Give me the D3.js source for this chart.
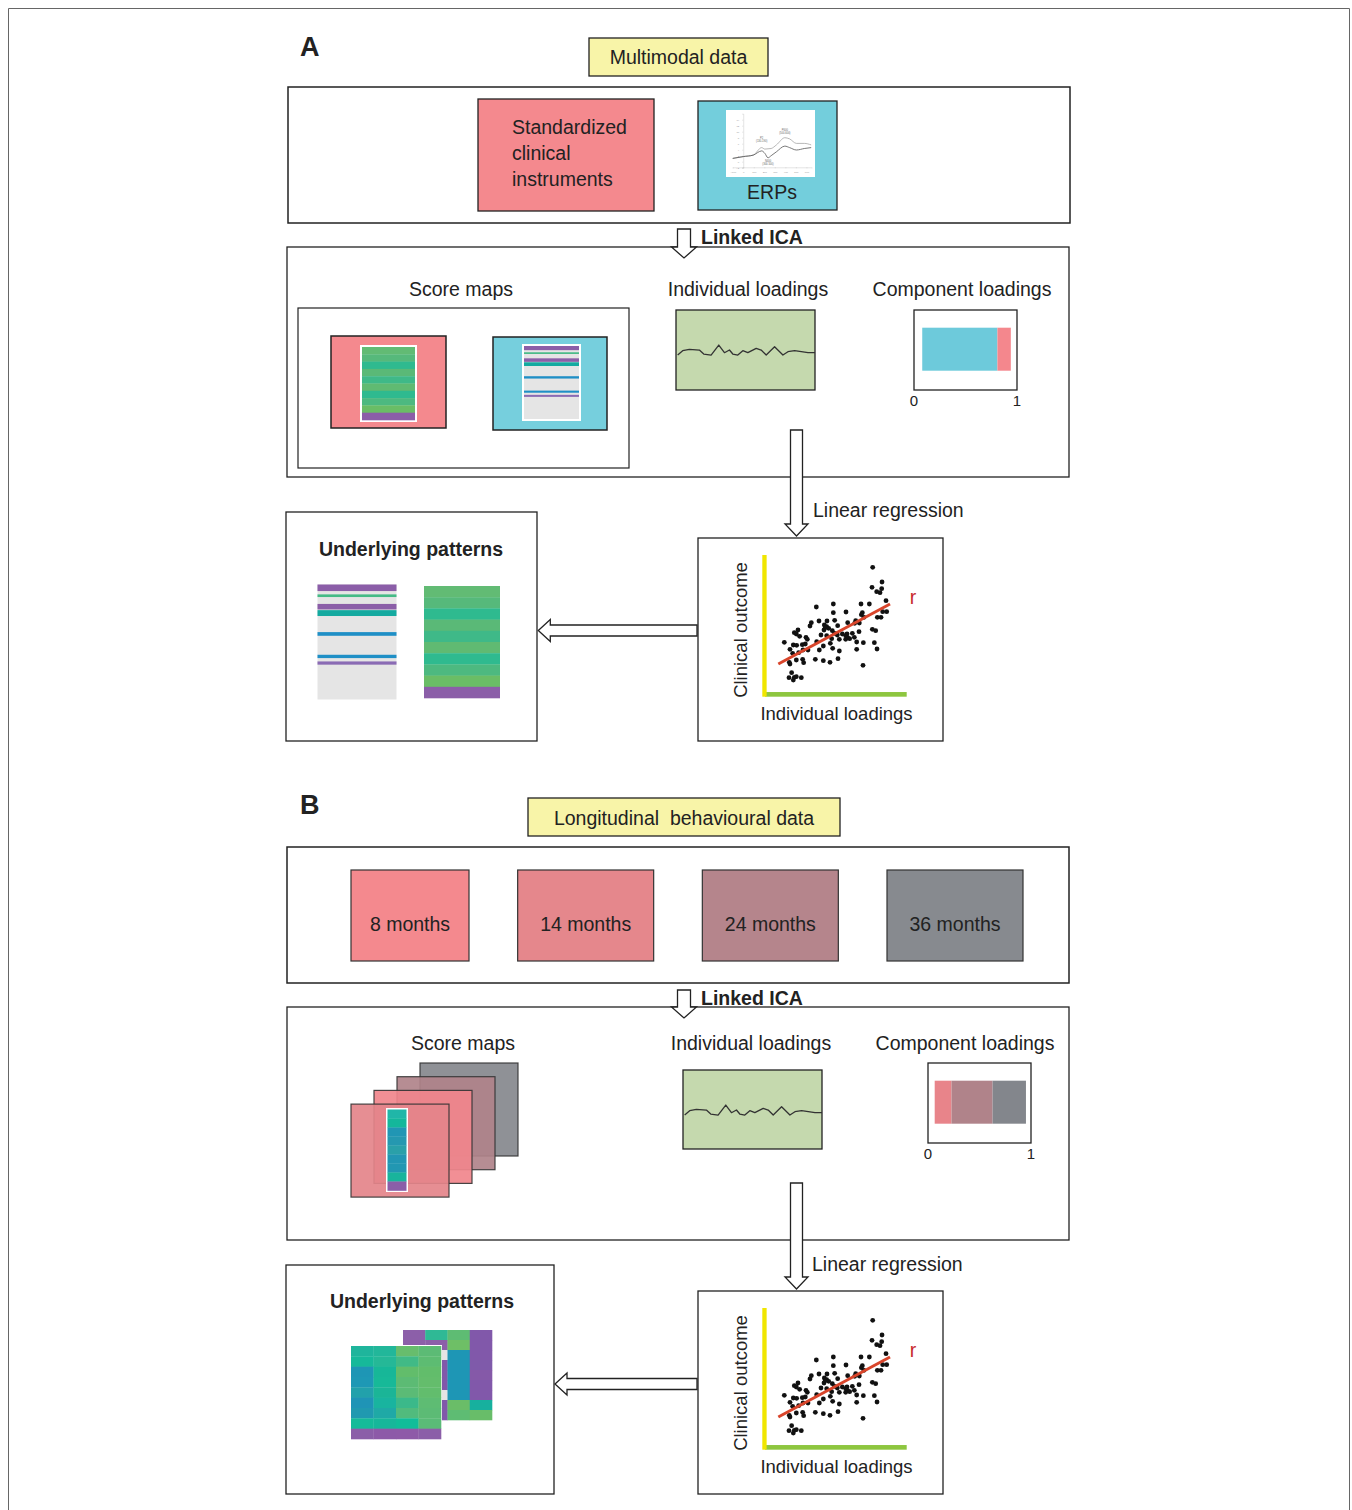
<!DOCTYPE html>
<html>
<head>
<meta charset="utf-8">
<script src="https://cdnjs.cloudflare.com/ajax/libs/d3/7.8.5/d3.min.js"></script>
<style>
body{margin:0;background:#fff;}
text{font-family:"Liberation Sans",Arial,sans-serif;fill:#222;font-size:19.5px;}
</style>
</head>
<body>
<script>
// ---------- data ----------
var clinicalLines = ["Standardized","clinical","instruments"];

// ERP thumbnail (time in ms, amplitude in uV)
var erpTime  = [-100,0,95,175,205,235,265,315,395,440,505,580,645];
var erpLower = [1.1,1.7,2.2,3.6,2.8,1.3,2.0,3.3,5.2,4.7,3.9,4.4,4.7];
var erpUpper = [1.1,1.7,2.2,4.7,4.2,4.3,4.4,5.6,8.0,7.6,6.1,6.1,5.6];
var erpPeakLabels = ["P2","(130-190)","P600","(500-600)","N400","(300-500)"];

// score-map rows (dense map) and sparse map stripes [start, end, colour] as fraction of height
var denseRows = ["#62bb74","#56b97b","#2fba8f","#5ab977","#3fb988","#60ba72","#2fba8f","#4db980","#6abd66","#8b5ea8"];
var sparseStripes = [[0,0.057,"#8b5ea8"],[0.086,0.109,"#45bb86"],[0.169,0.217,"#8b5ea8"],[0.223,0.274,"#14aaa0"],
                     [0.414,0.446,"#1f8fc6"],[0.611,0.640,"#1f8fc6"],[0.669,0.697,"#8a6bb4"]];

// individual loadings trace
var loadingT = [25,40,60,90,103,125,148,165,180,190,205,220,235,260,275,290,315,340,355,375,395,415,436];
var loadingV = [-7,6,10,8,-4,-7,23,0,8,-4,-7,6,0,13,8,-7,18,-7,3,6,3,0,0];

// component loadings (stacked shares)
var compStartA = 0.08;
var compValuesA = [0.73,0.13];
var compColorsA = ["#6dcadb","#f4878d"];
var compStartB = 0.065;
var compValuesB = [0.163,0.399,0.324];
var compColorsB = ["#e8848a","#b0838a","#83868c"];

// longitudinal time points
var months = ["8 months","14 months","24 months","36 months"];
var monthColors = ["#f4898e","#e5878c","#b5858c","#878a8f"];
var cardColors = ["#85888d","#b0838a","#f1868c","#e4848a"]; // back to front

// scatter: individual loadings vs clinical outcome (arbitrary units)
var scatterX = [331,329,359,358,343,353,371,213,162,296,321,213,251,300,297,361,373,345,356,170,194,217,280,143,147,
                186,193,226,256,277,291,305,199,185,189,210,290,330,340,107,96,102,112,131,135,176,193,208,217,225,240,
                254,270,256,276,262,250,66,93,103,120,129,122,163,183,204,231,250,283,303,336,83,91,109,137,171,211,231,
                283,344,81,83,102,121,124,159,183,203,227,302,88,80,96,93,117,102];
var scatterY = [388,328,344,324,315,312,288,278,269,278,278,252,254,252,246,255,255,238,238,227,227,229,228,212,222,
                215,210,213,222,220,221,238,205,200,207,198,195,202,198,200,192,188,181,178,172,185,183,174,190,185,188,
                188,190,177,178,174,183,163,155,154,156,158,140,165,152,160,172,172,164,162,162,142,130,132,140,140,145,137,
                142,143,103,98,110,112,102,112,108,103,114,94,72,57,58,50,57,60];
var fitX = [48,383];
var fitY = [98,278];

// underlying patterns B: 9 rows x 4 columns
var frontGrid = [
  ["#1fb59c","#22b79a","#67bd6d","#5cbb75"],
  ["#16b99a","#25b897","#41ba86","#5dbc72"],
  ["#1e96b5","#17b798","#62bd6b","#62bd6b"],
  ["#1e98b5","#17b998","#5cbb74","#64bd6c"],
  ["#22a1ab","#1bb597","#5bbb76","#62bd6d"],
  ["#1f94b6","#19b49f","#3bb98a","#5ebc73"],
  ["#2099b0","#1fa9a6","#51bb7d","#5cbb75"],
  ["#15bb99","#17b79a","#11bd99","#5abb77"],
  ["#8b5ea8","#8d5aa8","#8e5aa8","#8b5ea8"]];
var backGrid = [
  ["#8c5fa9","#2fb995","#5ebc73","#8158aa"],
  ["#8c5fa9","#8c5fa9","#6ebf66","#8158aa"],
  ["#8c5fa9","#e4e4e4","#1e96b5","#8158aa"],
  ["#8c5fa9","#8158aa","#1e96b5","#7f5aaa"],
  ["#8c5fa9","#8158aa","#1e96b5","#8559a8"],
  ["#8c5fa9","#8158aa","#1e96b5","#8158aa"],
  ["#8c5fa9","#e4e4e4","#1e96b5","#8158aa"],
  ["#8c5fa9","#8158aa","#6abd68","#17b09e"],
  ["#8c5fa9","#8158aa","#5ebc73","#68bd69"]];
var cardColumn = ["#20b6a8","#14b79b","#2196b4","#2598b0","#2aa0a9","#2296b3","#2297b2","#19b49c","#8b5ea8"];

// ---------- drawing ----------
var svg = d3.select("body").append("svg").attr("width",1352).attr("height",1510);

// outer frame
svg.append("path").attr("d","M8.5,1512V8.5H1349.5V1512").attr("fill","none").attr("stroke","#666").attr("stroke-width",1);

function box(x,y,w,h,fill,sw){
  return svg.append("rect").attr("x",x).attr("y",y).attr("width",w).attr("height",h)
    .attr("fill",fill||"none").attr("stroke","#222").attr("stroke-width",sw||1.5);
}
function label(x,y,t,anchor,bold,size){
  return svg.append("text").attr("x",x).attr("y",y).attr("text-anchor",anchor||"middle")
    .attr("dominant-baseline","central").attr("font-weight",bold?"bold":"normal")
    .style("font-size",(size||19.5)+"px").style("white-space","pre").text(t);
}
function downArrow(cx,y0,y1,sw,hw,hh){
  var p = d3.path();
  p.moveTo(cx-sw/2,y0); p.lineTo(cx+sw/2,y0); p.lineTo(cx+sw/2,y1-hh); p.lineTo(cx+hw/2,y1-hh);
  p.lineTo(cx,y1); p.lineTo(cx-hw/2,y1-hh); p.lineTo(cx-sw/2,y1-hh); p.closePath();
  svg.append("path").attr("d",p.toString()).attr("fill","#fff").attr("stroke","#222").attr("stroke-width",1.3);
}
function leftArrow(tip,tail,cy,sh,hh,hl){
  var p = d3.path();
  p.moveTo(tail,cy-sh/2); p.lineTo(tip+hl,cy-sh/2); p.lineTo(tip+hl,cy-hh/2); p.lineTo(tip,cy);
  p.lineTo(tip+hl,cy+hh/2); p.lineTo(tip+hl,cy+sh/2); p.lineTo(tail,cy+sh/2); p.closePath();
  svg.append("path").attr("d",p.toString()).attr("fill","#fff").attr("stroke","#222").attr("stroke-width",1.3);
}

function denseMap(x,y,w,h){
  svg.append("rect").attr("x",x).attr("y",y).attr("width",w).attr("height",h).attr("fill","#fff");
  var yb = d3.scaleBand().domain(d3.range(denseRows.length)).range([y+2,y+h-2]);
  svg.append("g").selectAll("rect").data(denseRows).enter().append("rect")
    .attr("x",x+2).attr("width",w-4)
    .attr("y",function(d,i){return yb(i);}).attr("height",yb.bandwidth()+0.3)
    .attr("fill",function(d){return d;});
}
function sparseMap(x,y,w,h,pad){
  svg.append("rect").attr("x",x).attr("y",y).attr("width",w).attr("height",h).attr("fill","#fff");
  var ys = d3.scaleLinear().domain([0,1]).range([y+pad,y+h-pad]);
  svg.append("rect").attr("x",x+pad).attr("y",y+pad).attr("width",w-2*pad).attr("height",h-2*pad).attr("fill","#e5e5e5");
  svg.append("g").selectAll("rect").data(sparseStripes).enter().append("rect")
    .attr("x",x+pad).attr("width",w-2*pad)
    .attr("y",function(d){return ys(d[0]);}).attr("height",function(d){return ys(d[1])-ys(d[0]);})
    .attr("fill",function(d){return d[2];});
}
function loadingsBox(x,y,w,h){
  box(x,y,w,h,"#c5d9ae",1.3);
  var lx = d3.scaleLinear().domain([20,436]).range([x,x+w]);
  var ly = d3.scaleLinear().domain([0,30]).range([y+42.7,y+32.7]);
  var line = d3.line().x(function(d){return lx(d[0]);}).y(function(d){return ly(d[1]);});
  svg.append("path").datum(d3.zip(loadingT,loadingV)).attr("d",line)
    .attr("fill","none").attr("stroke","#333").attr("stroke-width",1.3).attr("stroke-linejoin","round");
}
function compBox(x,y,start,values,colors){
  box(x,y,103,80,"#fff",1.3);
  var cx = d3.scaleLinear().domain([0,1]).range([x,x+103]);
  var acc = start, segs = values.map(function(v,i){var s={a:acc,b:acc+v,c:colors[i]}; acc+=v; return s;});
  svg.append("g").selectAll("rect").data(segs).enter().append("rect")
    .attr("x",function(d){return cx(d.a);}).attr("width",function(d){return cx(d.b)-cx(d.a);})
    .attr("y",y+17.7).attr("height",43).attr("fill",function(d){return d.c;});
  [0,1].forEach(function(t){ label(cx(t),y+90,String(t),"middle",false,15); });
}
function scatter(ox,oy){
  box(ox,oy,245,203,"#fff",1.3);
  var g = svg.append("g").attr("transform","translate("+ox+","+oy+")");
  var sx = d3.scaleLinear().domain([0,433]).range([64.3,208.7]);
  var sy = d3.scaleLinear().domain([0,425]).range([158.7,17]);
  g.append("rect").attr("x",sx(0)+2.7).attr("y",sy(14)).attr("width",sx(433)-sx(0)-2.7).attr("height",sy(0)-sy(14)).attr("fill","#8dc63f");
  g.append("rect").attr("x",sx(0)).attr("y",sy(425)).attr("width",sx(13)-sx(0)).attr("height",sy(0)-sy(425)).attr("fill","#f0e600");
  g.selectAll("circle").data(d3.zip(scatterX,scatterY)).enter().append("circle")
    .attr("cx",function(d){return sx(d[0]);}).attr("cy",function(d){return sy(d[1]);})
    .attr("r",2.4).attr("fill","#111");
  g.append("line").attr("x1",sx(fitX[0])).attr("y1",sy(fitY[0])).attr("x2",sx(fitX[1])).attr("y2",sy(fitY[1]))
    .attr("stroke","#d9452b").attr("stroke-width",3);
  g.append("text").attr("x",215).attr("y",59).attr("text-anchor","middle").attr("dominant-baseline","central")
    .style("fill","#c8282e").text("r");
  g.append("text").attr("transform","translate(42,92) rotate(-90)").attr("text-anchor","middle")
    .attr("dominant-baseline","central").style("font-size","18.5px").text("Clinical outcome");
  g.append("text").attr("x",138.5).attr("y",175).attr("text-anchor","middle")
    .attr("dominant-baseline","central").style("font-size","18.5px").text("Individual loadings");
}

// ================= Panel A =================
label(300,47,"A","start",true,27);
box(589,38,179,38,"#f8f4a8",1.3);
label(678.5,57,"Multimodal data");

box(288,87,782,136,"#fff",1.5);
box(478,99,176,112,"#f4898e",1.3);
clinicalLines.forEach(function(t,i){ label(512,127+i*26,t,"start"); });

box(698,101,139,109,"#73cedc",1.3);
svg.append("rect").attr("x",726).attr("y",110).attr("width",89).attr("height",67).attr("fill","#fff");
(function(){
  var ex = d3.scaleLinear().domain([-100,650]).range([732.7,811.7]);
  var ey = d3.scaleLinear().domain([-2,16]).range([167.7,113.7]);
  var g = svg.append("g");
  g.append("g").attr("transform","translate(0,167.3)")
    .call(d3.axisBottom(ex).tickValues([-100,0,100,200,300,400,500,600]).tickSize(1).tickFormat(d3.format("d")))
    .call(function(a){a.selectAll("text").style("font-size","2.5px").style("fill","#999"); a.selectAll("line,path").attr("stroke","#bbb").attr("stroke-width",0.4);});
  g.append("g").attr("transform","translate("+ex(0)+",0)")
    .call(d3.axisLeft(ey).tickValues([-2,0,2,4,6,8,10,12,14]).tickSize(1))
    .call(function(a){a.selectAll("text").style("font-size","2.5px").style("fill","#999"); a.selectAll("line,path").attr("stroke","#bbb").attr("stroke-width",0.4);});
  var ln = d3.line().x(function(d){return ex(d[0]);}).y(function(d){return ey(d[1]);}).curve(d3.curveMonotoneX);
  g.append("path").datum(d3.zip(erpTime,erpUpper)).attr("d",ln).attr("fill","none").attr("stroke","#999").attr("stroke-width",0.7);
  g.append("path").datum(d3.zip(erpTime,erpLower)).attr("d",ln).attr("fill","none").attr("stroke","#555").attr("stroke-width",0.8);
  var lp = [[175,7.6],[175,6.6],[395,10.4],[395,9.4],[235,-0.2],[235,-1.1]];
  erpPeakLabels.forEach(function(t,i){
    g.append("text").attr("x",ex(lp[i][0])).attr("y",ey(lp[i][1])).attr("text-anchor","middle")
      .style("font-size","2.6px").style("fill","#666").text(t);
  });
})();
label(772,192,"ERPs");

box(287,247,782,230,"#fff",1.3);
downArrow(684,229,258,13,25,11);
label(701,237,"Linked ICA","start",true);

label(461,289,"Score maps");
box(298,308,331,160,"none",1.2);
box(331,336,115,92,"#f4898e",1.5);
denseMap(360,345,57,77);
box(493,337,114,93,"#76cfdd",1.5);
sparseMap(522,344,59,77,2);

label(748,289,"Individual loadings");
loadingsBox(676,310,139,80);

label(962,289,"Component loadings");
compBox(914,310,compStartA,compValuesA,compColorsA);

downArrow(796.5,430,536,12,23,12);
label(813,510,"Linear regression","start");

scatter(698,538);

box(286,512,251,229,"#fff",1.3);
label(411,549,"Underlying patterns","middle",true);
sparseMap(317,584,80,116,0.5);
denseMap(422,584,80,116);
leftArrow(538.3,697,630.5,11,22,12);

// ================= Panel B =================
label(300,805,"B","start",true,27);
box(528,798,312,38,"#f8f4a8",1.3);
label(684,818,"Longitudinal  behavioural data");

box(287,847,782,136,"#fff",1.5);
// right edges of the time-point boxes are evenly spaced; the first box is narrower
var mx = d3.scalePoint().domain(months).range([469,1023]);
function monthW(i){ return i===0 ? 118 : 136; }
svg.append("g").selectAll("rect").data(months).enter().append("rect")
  .attr("x",function(d,i){return mx(d)-monthW(i);}).attr("y",870)
  .attr("width",function(d,i){return monthW(i);}).attr("height",91)
  .attr("fill",function(d,i){return monthColors[i];}).attr("stroke","#333").attr("stroke-width",1.2);
months.forEach(function(m,i){ label(mx(m)-monthW(i)/2,924,m); });

box(287,1007,782,233,"#fff",1.3);
downArrow(684,990,1018,13,25,11);
label(701,998,"Linked ICA","start",true);

label(463,1043,"Score maps");
svg.append("g").selectAll("rect").data(cardColors).enter().append("rect")
  .attr("x",function(d,i){return 420-i*23;}).attr("y",function(d,i){return 1063+i*13.7;})
  .attr("width",98).attr("height",93)
  .attr("fill",function(d){return d;}).attr("fill-opacity",0.92)
  .attr("stroke","#333").attr("stroke-width",1.2).attr("stroke-opacity",0.9);
(function(){
  svg.append("rect").attr("x",386).attr("y",1108).attr("width",22).attr("height",84).attr("fill","#fff");
  var yb = d3.scaleBand().domain(d3.range(cardColumn.length)).range([1109.5,1190.5]);
  svg.append("g").selectAll("rect").data(cardColumn).enter().append("rect")
    .attr("x",387.5).attr("width",19).attr("y",function(d,i){return yb(i);}).attr("height",yb.bandwidth()+0.3)
    .attr("fill",function(d){return d;});
})();

label(751,1043,"Individual loadings");
loadingsBox(683,1070,139,79);

label(965,1043,"Component loadings");
compBox(928,1063,compStartB,compValuesB,compColorsB);

downArrow(796.5,1183,1289,12,23,12);
label(812,1264,"Linear regression","start");

scatter(698,1291);

box(286,1265,268,229,"#fff",1.3);
label(422,1301,"Underlying patterns","middle",true);
function grid(x,y,w,h,cells){
  var gx = d3.scaleBand().domain(d3.range(4)).range([x,x+w]);
  var gy = d3.scaleBand().domain(d3.range(cells.length)).range([y,y+h]);
  var g = svg.append("g");
  g.append("rect").attr("x",x-1).attr("y",y-1).attr("width",w+2).attr("height",h+2).attr("fill","#fff");
  cells.forEach(function(row,r){
    g.selectAll(null).data(row).enter().append("rect")
      .attr("x",function(d,c){return gx(c);}).attr("y",gy(r))
      .attr("width",gx.bandwidth()+0.3).attr("height",gy.bandwidth()+0.3)
      .attr("fill",function(d){return d;});
  });
}
grid(403,1330,89,90,backGrid);
grid(351,1346,90,93,frontGrid);
leftArrow(555,697,1384,11,22,12);
</script>
</body>
</html>
